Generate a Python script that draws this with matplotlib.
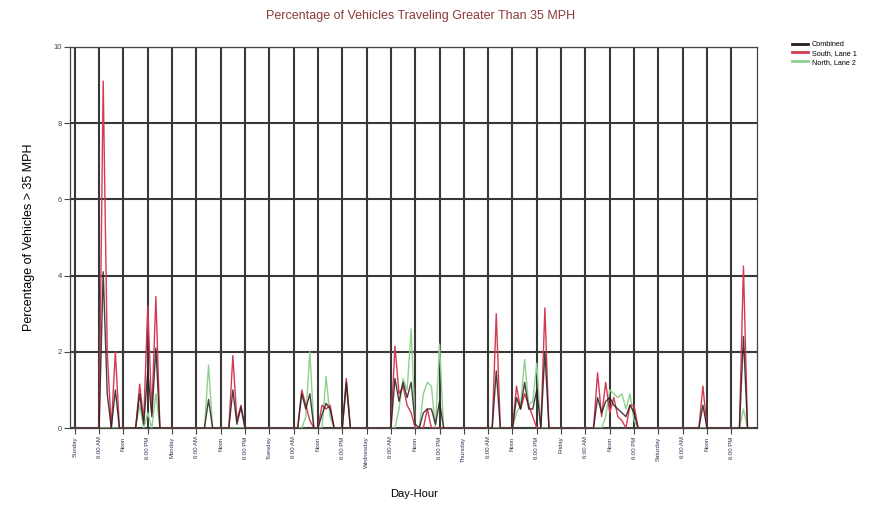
import matplotlib
matplotlib.use("Agg")
import matplotlib.pyplot as plt
from matplotlib.lines import Line2D
import numpy as np

plt.rcParams['font.family'] = ['Liberation Sans', 'DejaVu Sans']

# === hourly values, one week (Sunday 0:00 .. Saturday 23:00) ===
south = [
    0, 0, 0, 0, 0, 0, 0, 9.1, 2.0, 0, 2.0, 0, 0, 0, 0, 0, 1.15, 0.2, 3.2, 0.4, 3.45, 0, 0, 0,      # Sunday
    0, 0, 0, 0, 0, 0, 0, 0, 0, 0, 0, 0, 0, 0, 0, 1.9, 0.2, 0.6, 0, 0, 0, 0, 0, 0,                 # Monday
    0, 0, 0, 0, 0, 0, 0, 0, 1.0, 0.6, 0.2, 0, 0, 0.6, 0.5, 0.6, 0, 0, 0, 1.3, 0, 0, 0, 0,          # Tuesday
    0, 0, 0, 0, 0, 0, 0, 2.15, 0.9, 1.1, 0.6, 0.4, 0, 0, 0, 0.5, 0, 0, 0, 0, 0, 0, 0, 0,           # Wednesday
    0, 0, 0, 0, 0, 0, 0, 0, 3.0, 0, 0, 0, 0, 1.1, 0.5, 0.9, 0.6, 0.3, 0, 0, 3.15, 0, 0, 0,         # Thursday
    0, 0, 0, 0, 0, 0, 0, 0, 0, 1.45, 0.3, 1.2, 0.4, 0.8, 0.3, 0.2, 0, 0.6, 0.6, 0, 0, 0, 0, 0,     # Friday
    0, 0, 0, 0, 0, 0, 0, 0, 0, 0, 0, 1.1, 0, 0, 0, 0, 0, 0, 0, 0, 0, 4.25, 0, 0,                  # Saturday
]
north = [
    0, 0, 0, 0, 0, 0, 0, 0, 0, 0, 0, 0, 0, 0, 0, 0, 0.6, 0, 0.4, 0, 0.9, 0, 0, 0,
    0, 0, 0, 0, 0, 0, 0, 0, 0, 1.65, 0, 0, 0, 0, 0, 0, 0, 0, 0, 0, 0, 0, 0, 0,
    0, 0, 0, 0, 0, 0, 0, 0, 0, 0.3, 2.0, 0, 0, 0, 1.35, 0.3, 0, 0, 0, 1.1, 0, 0, 0, 0,
    0, 0, 0, 0, 0, 0, 0, 0, 0.5, 1.3, 1.0, 2.6, 0, 0, 0.9, 1.2, 1.1, 0, 2.2, 0, 0, 0, 0, 0,
    0, 0, 0, 0, 0, 0, 0, 0, 0, 0, 0, 0, 0, 0.4, 0.6, 1.8, 0.6, 0.7, 1.7, 0, 0, 0, 0, 0,
    0, 0, 0, 0, 0, 0, 0, 0, 0, 0, 0, 0.3, 1.0, 0.9, 0.8, 0.9, 0.5, 0.9, 0.2, 0, 0, 0, 0, 0,
    0, 0, 0, 0, 0, 0, 0, 0, 0, 0, 0, 0, 0, 0, 0, 0, 0, 0, 0, 0, 0, 0.5, 0, 0,
]
combined = [
    0, 0, 0, 0, 0, 0, 0, 4.1, 0.9, 0, 1.0, 0, 0, 0, 0, 0, 0.9, 0.1, 1.5, 0.3, 2.1, 0, 0, 0,
    0, 0, 0, 0, 0, 0, 0, 0, 0, 0.75, 0, 0, 0, 0, 0, 1.0, 0.1, 0.55, 0, 0, 0, 0, 0, 0,
    0, 0, 0, 0, 0, 0, 0, 0, 0.9, 0.5, 0.9, 0, 0, 0.35, 0.65, 0.5, 0, 0, 0, 1.2, 0, 0, 0, 0,
    0, 0, 0, 0, 0, 0, 0, 1.3, 0.7, 1.2, 0.8, 1.2, 0.1, 0, 0.4, 0.5, 0.5, 0.1, 0.7, 0, 0, 0, 0, 0,
    0, 0, 0, 0, 0, 0, 0, 0, 1.5, 0, 0, 0, 0, 0.8, 0.5, 1.2, 0.5, 0.5, 1.0, 0, 2.0, 0, 0, 0,
    0, 0, 0, 0, 0, 0, 0, 0, 0, 0.8, 0.4, 0.7, 0.8, 0.6, 0.5, 0.4, 0.3, 0.6, 0.4, 0, 0, 0, 0, 0,
    0, 0, 0, 0, 0, 0, 0, 0, 0, 0, 0, 0.6, 0, 0, 0, 0, 0, 0, 0, 0, 0, 2.4, 0, 0,
]

days = ["Sunday", "Monday", "Tuesday", "Wednesday", "Thursday", "Friday", "Saturday"]
tick_labels = []
for d in days:
    tick_labels += [d, "6:00 AM", "Noon", "6:00 PM"]

series_names = ["Combined", "South, Lane 1", "North, Lane 2"]
colors = {"Combined": "#2a1c1c", "South, Lane 1": "#d43a52", "North, Lane 2": "#8fd08f"}

hours = np.arange(len(south))

fig = plt.figure(figsize=(8.8, 5.09), dpi=100)
ax = fig.add_axes([0.0795, 0.159, 0.781, 0.749])

ax.plot(hours, north, color=colors["North, Lane 2"], lw=1.0, zorder=3)
ax.plot(hours, south, color=colors["South, Lane 1"], lw=1.0, zorder=4)
ax.plot(hours, combined, color=colors["Combined"], lw=1.0, zorder=5, alpha=0.85)

ax.set_xlim(-1.2, 168.4)
ax.set_ylim(0, 10)
ax.set_xticks(np.arange(0, 168, 6))
ax.set_xticklabels(tick_labels, rotation=90, fontsize=4.3, color="#333355")
ax.set_yticks([0, 2, 4, 6, 8, 10])
ax.set_yticklabels(["0", "2", "4", "6", "8", "10"], fontsize=5.5, color="#444444")
ax.tick_params(axis="both", length=4, width=0.8, color="#444444", pad=2)

ax.grid(True, color="#383838", lw=1.5, zorder=1)
ax.set_axisbelow(True)
for s in ax.spines.values():
    s.set_color("#444444")
    s.set_linewidth(0.9)

fig.text(0.478, 0.969, "Percentage of Vehicles Traveling Greater Than 35 MPH",
         ha="center", va="center", fontsize=9, color="#8b3a3a", fontweight="medium")
ax.set_xlabel("Day-Hour", fontsize=8, labelpad=15)
ax.set_ylabel("Percentage of Vehicles > 35 MPH", fontsize=9, labelpad=13)

handles = [Line2D([0], [0], color=colors[n], lw=2) for n in series_names]
fig.legend(handles, series_names, loc="upper left", bbox_to_anchor=(0.897, 0.925),
           frameon=False, fontsize=5.2, handlelength=2.2, handletextpad=0.5,
           labelspacing=0.25, borderaxespad=0)

fig.savefig("out.png", dpi=100)
